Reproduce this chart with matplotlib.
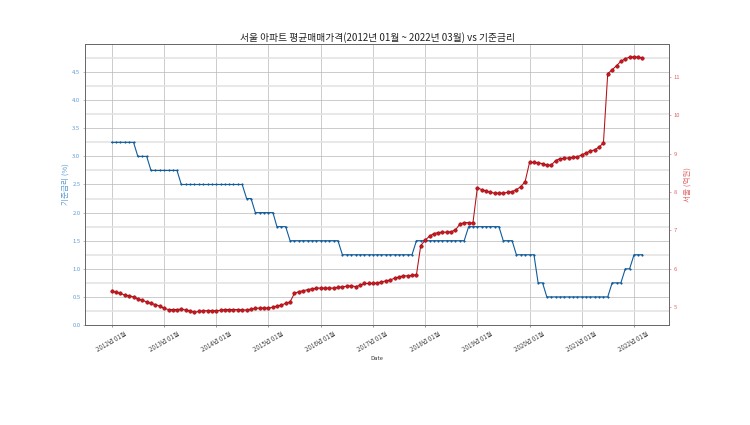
import numpy as np
import pandas as pd
import matplotlib
matplotlib.use("Agg")
import matplotlib.pyplot as plt
from matplotlib.ticker import FixedLocator

plt.rcParams['font.family'] = ['Noto Sans CJK KR', 'DejaVu Sans']
plt.rcParams['axes.unicode_minus'] = False

# monthly dates 2012-01 .. 2022-03
dates = pd.date_range('2012-01-01', '2022-03-01', freq='MS')

# 기준금리 (%)
base_rate = [
    3.25, 3.25, 3.25, 3.25, 3.25, 3.25, 3.00, 3.00, 3.00, 2.75, 2.75, 2.75,   # 2012
    2.75, 2.75, 2.75, 2.75, 2.50, 2.50, 2.50, 2.50, 2.50, 2.50, 2.50, 2.50,   # 2013
    2.50, 2.50, 2.50, 2.50, 2.50, 2.50, 2.50, 2.25, 2.25, 2.00, 2.00, 2.00,   # 2014
    2.00, 2.00, 1.75, 1.75, 1.75, 1.50, 1.50, 1.50, 1.50, 1.50, 1.50, 1.50,   # 2015
    1.50, 1.50, 1.50, 1.50, 1.50, 1.25, 1.25, 1.25, 1.25, 1.25, 1.25, 1.25,   # 2016
    1.25, 1.25, 1.25, 1.25, 1.25, 1.25, 1.25, 1.25, 1.25, 1.25, 1.50, 1.50,   # 2017
    1.50, 1.50, 1.50, 1.50, 1.50, 1.50, 1.50, 1.50, 1.50, 1.50, 1.75, 1.75,   # 2018
    1.75, 1.75, 1.75, 1.75, 1.75, 1.75, 1.50, 1.50, 1.50, 1.25, 1.25, 1.25,   # 2019
    1.25, 1.25, 0.75, 0.75, 0.50, 0.50, 0.50, 0.50, 0.50, 0.50, 0.50, 0.50,   # 2020
    0.50, 0.50, 0.50, 0.50, 0.50, 0.50, 0.50, 0.75, 0.75, 0.75, 1.00, 1.00,   # 2021
    1.25, 1.25, 1.25,                                                         # 2022
]

# 서울 아파트 평균매매가격 (억원)
seoul_price = [
    5.41, 5.38, 5.35, 5.31, 5.29, 5.26, 5.21, 5.17, 5.13, 5.09, 5.06, 5.02,   # 2012
    4.96, 4.93, 4.93, 4.93, 4.94, 4.92, 4.89, 4.86, 4.88, 4.90, 4.90, 4.90,   # 2013
    4.90, 4.91, 4.93, 4.93, 4.93, 4.93, 4.92, 4.92, 4.94, 4.96, 4.97, 4.97,   # 2014
    4.97, 4.99, 5.02, 5.05, 5.09, 5.13, 5.35, 5.40, 5.42, 5.45, 5.47, 5.49,   # 2015
    5.49, 5.49, 5.49, 5.49, 5.51, 5.52, 5.54, 5.55, 5.53, 5.56, 5.61, 5.61,   # 2016
    5.61, 5.62, 5.65, 5.68, 5.70, 5.75, 5.78, 5.81, 5.81, 5.82, 5.84, 6.60,   # 2017
    6.74, 6.85, 6.91, 6.94, 6.95, 6.95, 6.96, 7.01, 7.16, 7.20, 7.20, 7.19,   # 2018
    8.11, 8.06, 8.03, 7.99, 7.97, 7.97, 7.97, 7.99, 8.01, 8.06, 8.14, 8.27,   # 2019
    8.77, 8.77, 8.76, 8.74, 8.70, 8.70, 8.82, 8.87, 8.88, 8.89, 8.90, 8.92,   # 2020
    8.97, 9.02, 9.07, 9.10, 9.17, 9.28, 11.09, 11.19, 11.30, 11.41, 11.48, 11.52,  # 2021
    11.53, 11.52, 11.50,                                                      # 2022
]

xtick_dates = pd.to_datetime(['2012-01-01', '2013-01-01', '2014-01-01', '2015-01-01',
                              '2016-01-01', '2017-01-01', '2018-01-01', '2019-01-01',
                              '2020-01-01', '2021-01-01', '2022-01-01'])
xtick_labels = ['2012년 01월', '2013년 01월', '2014년 01월', '2015년 01월', '2016년 01월',
                '2017년 01월', '2018년 01월', '2019년 01월', '2020년 01월', '2021년 01월',
                '2022년 01월']
left_ticks = [0.0, 0.5, 1.0, 1.5, 2.0, 2.5, 3.0, 3.5, 4.0, 4.5]
left_minor = [0.25, 0.75, 1.25, 1.75, 2.25, 2.75, 3.25, 3.75, 4.25, 4.75]
right_ticks = [5, 6, 7, 8, 9, 10, 11]

blue_lab = '#5b9bd5'
red_lab = '#e06666'

fig = plt.figure(figsize=(15, 8.5), dpi=50)
ax1 = fig.add_axes([0.1137, 0.2353, 0.7783, 0.6612])
ax2 = ax1.twinx()

ax1.plot(dates, base_rate, color='#0f5c9c', lw=1.6, marker='.', markersize=4,
         zorder=3)
ax2.plot(dates, seoul_price, color='#b50d14', lw=1.5, marker='o', markersize=5,
         markerfacecolor='#d0141c', markeredgecolor='#8e0b10', markeredgewidth=0.8)

ax1.set_ylim(0, 5)
ax1.yaxis.set_major_locator(FixedLocator(left_ticks))
ax1.set_yticklabels([f'{t:.1f}' for t in left_ticks])
ax1.yaxis.set_minor_locator(FixedLocator(left_minor))
ax1.grid(True, which='major', color='#b8b8b8', lw=1.0)
ax1.grid(True, which='minor', axis='y', color='#e2e2e2', lw=2.2)
ax1.tick_params(axis='y', which='minor', length=0)
ax1.set_axisbelow(True)

ax1.set_xticks(xtick_dates)
ax1.set_xticklabels(xtick_labels, rotation=30, ha='center', fontsize=9, color='#444444')
ax1.tick_params(axis='y', labelsize=8.5, colors=blue_lab)
ax1.tick_params(axis='x', colors='#444444')

ax2.set_yticks(right_ticks)
ax2.tick_params(axis='y', labelsize=8.5, colors=red_lab)
ax2.set_ylabel('서울 (억원)', color=red_lab, fontsize=11)
ax1.set_ylabel('기준금리 (%)', color=blue_lab, fontsize=11)
ax1.set_xlabel('Date', fontsize=8.5, color='#333333')

for ax in (ax1, ax2):
    for sp in ax.spines.values():
        sp.set_color('#666666')
        sp.set_linewidth(1.2)

ax1.set_title('서울 아파트 평균매매가격(2012년 01월 ~ 2022년 03월) vs 기준금리',
              fontsize=14, color='#222222', pad=4)

fig.savefig('out.png', dpi=50)
